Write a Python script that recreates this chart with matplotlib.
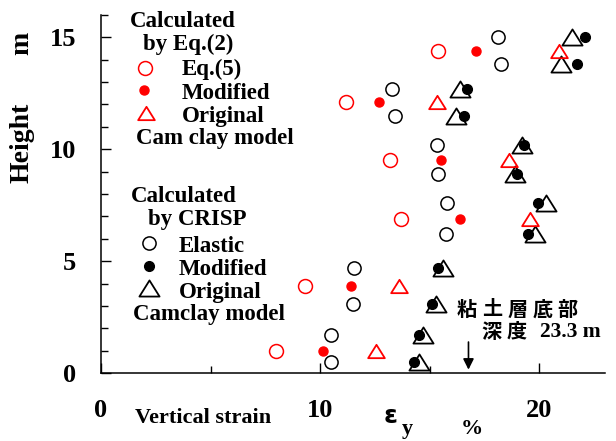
import matplotlib
matplotlib.use("Agg")
import matplotlib.pyplot as plt
from matplotlib.path import Path
from matplotlib.ticker import FixedLocator, MultipleLocator

# Heights (m) of the evaluation points
h_crisp = [15.0, 13.8, 12.7, 11.5, 10.2, 8.9, 7.6, 6.2, 4.7, 3.1, 1.7, 0.5]
h_eq = [14.4, 12.1, 9.5, 6.9, 3.9, 1.0]

# Vertical strain (%) calculated by CRISP (black)
crisp_elastic = [18.1, 18.25, 13.3, 13.4, 15.35, 15.4, 15.8, 15.76, 11.55, 11.5, 10.5, 10.5]
crisp_modified = [22.1, 21.7, 16.7, 16.55, 19.3, 18.97, 19.95, 19.5, 15.4, 15.1, 14.5, 14.27]
crisp_original = [21.5, 21.0, 16.4, 16.2, 19.2, 18.9, 20.3, 19.8, 15.6, 15.3, 14.7, 14.5]

# Vertical strain (%) calculated by Eq.(2) (red)
eq_eq5 = [15.37, 11.18, 13.2, 13.7, 9.3, 7.97]
eq_modified = [17.1, 12.7, 15.5, 16.4, 11.42, 10.13]
eq_original = [20.9, 15.35, 18.6, 19.6, 13.6, 12.53]

clay_bottom_x = 16.77

SERIF = "Liberation Serif"
CJK = ["Noto Sans CJK JP", "DejaVu Sans"]
W, H = 616, 441

tri = Path([(0, 0.8), (-1, -0.8), (1, -0.8), (0, 0.8)], closed=True)

fig = plt.figure(figsize=(W / 100, H / 100), dpi=100)
ax = fig.add_axes([101 / W, 1 - 373 / H, 504 / W, 358 / H])

red = "#ff0000"
open_c = dict(linestyle="none", marker="o", mfc="none", mew=1.1)
ax.plot(crisp_elastic, h_crisp, mec="black", ms=9.5, **open_c)
ax.plot(crisp_original, h_crisp, linestyle="none", marker=tri, mfc="none", mec="black", mew=1.3, ms=14.5)
ax.plot(crisp_modified, h_crisp, linestyle="none", marker="o", color="black", ms=7)
ax.plot(eq_eq5, h_eq, mec=red, ms=10, **open_c)
ax.plot(eq_modified, h_eq, linestyle="none", marker="o", color=red, ms=6.5)
ax.plot(eq_original, h_eq, linestyle="none", marker=tri, mfc="none", mec=red, mew=1.3, ms=12)

ax.set_xlim(0, 23)
ax.set_ylim(0, 16)
for s in ["top", "right"]:
    ax.spines[s].set_visible(False)
for s in ["left", "bottom"]:
    ax.spines[s].set_linewidth(1.1)

ax.xaxis.set_major_locator(FixedLocator([0, 10, 20]))
ax.xaxis.set_minor_locator(FixedLocator([5, 15]))
ax.yaxis.set_major_locator(FixedLocator([0, 5, 10, 15]))
ax.yaxis.set_minor_locator(MultipleLocator(1))
ax.tick_params(which="both", direction="in", width=1.0, colors="black")
ax.tick_params(which="major", length=7.5)
ax.tick_params(which="minor", length=5)
ax.tick_params(axis="y", which="major", pad=18)
ax.tick_params(axis="x", which="major", pad=19)
for lab in ax.get_xticklabels() + ax.get_yticklabels():
    lab.set_fontfamily(SERIF)
    lab.set_fontweight("bold")
    lab.set_fontsize(19)


def ftext(px, py, s, **kw):
    kw.setdefault("family", SERIF)
    kw.setdefault("fontweight", "bold")
    kw.setdefault("va", "baseline")
    fig.text(px / W, 1 - py / H, s, **kw)


def fmark(px, py, **kw):
    ax.plot([(px - 101) / 504], [(373 - py) / 358], transform=ax.transAxes,
            clip_on=False, linestyle="none", **kw)


LS = 16.5
# Legend block 1 (Eq.(2))
ftext(130, 27, "Calculated", fontsize=LS)
ftext(143, 50, "by Eq.(2)", fontsize=LS)
ftext(182, 75, "Eq.(5)", fontsize=LS)
ftext(182, 99, "Modified", fontsize=LS)
ftext(182, 122, "Original", fontsize=LS)
ftext(136, 144, "Cam clay model", fontsize=LS)
fmark(145, 68, marker="o", mfc="none", mec=red, mew=1.1, ms=10)
fmark(144, 90, marker="o", color=red, ms=6.5)
fmark(146, 113, marker=tri, mfc="none", mec=red, mew=1.3, ms=12)

# Legend block 2 (CRISP)
ftext(131, 202, "Calculated", fontsize=LS)
ftext(148, 225, "by CRISP", fontsize=LS)
ftext(179, 252, "Elastic", fontsize=LS)
ftext(179, 275, "Modified", fontsize=LS)
ftext(179, 298, "Original", fontsize=LS)
ftext(133, 320, "Camclay model", fontsize=LS)
fmark(149, 243, marker="o", mfc="none", mec="black", mew=1.1, ms=9.5)
fmark(149, 266, marker="o", color="black", ms=7)
fmark(149, 288, marker=tri, mfc="none", mec="black", mew=1.3, ms=14.5)

# Axis titles
ftext(22, 143, "Height", fontsize=20, rotation=90, va="center", ha="center")
ftext(22, 43, "m", fontsize=20, rotation=90, va="center", ha="center")
ftext(135, 423, "Vertical strain", fontsize=16)
ftext(384, 423, "\u03b5", fontsize=18, family="DejaVu Sans")
ftext(402, 434, "y", fontsize=16)
ftext(461, 434, "%", fontsize=16)

# Clay layer bottom annotation
for i, ch in enumerate("粘土層底部"):
    ftext(457 + i * 25.2, 309, ch, fontsize=14.5, family=CJK, fontweight="bold",
          va="center", ha="left")
for i, ch in enumerate("深度"):
    ftext(481 + i * 25.2, 331, ch, fontsize=14.5, family=CJK, fontweight="bold",
          va="center", ha="left")
ftext(540, 337, "23.3 m", fontsize=15.5)
ax.annotate("", xy=(clay_bottom_x, 0.15), xytext=(clay_bottom_x, (373 - 342) / 22.4),
            arrowprops=dict(arrowstyle="-|>", color="black", lw=1.2,
                            mutation_scale=16, shrinkA=0, shrinkB=0))

fig.savefig("out.png", dpi=100)
